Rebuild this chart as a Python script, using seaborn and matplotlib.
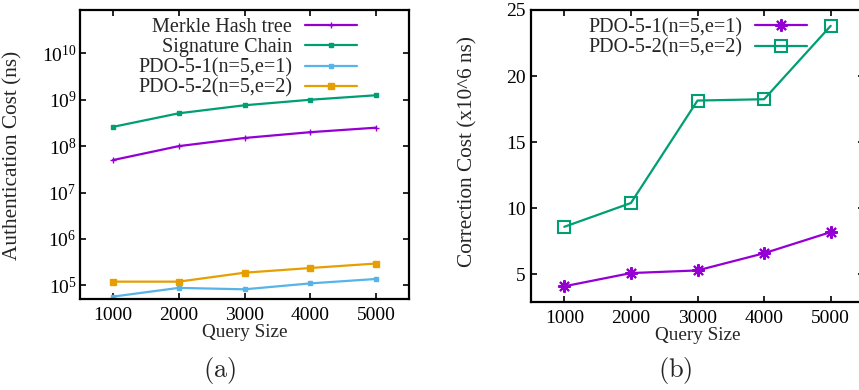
import numpy as np
import pandas as pd
import matplotlib
matplotlib.use("Agg")
import matplotlib.pyplot as plt
import seaborn as sns
from matplotlib.ticker import FixedLocator, NullLocator, FixedFormatter

# ---------------- data ----------------
query_sizes = [1000, 2000, 3000, 4000, 5000]

merkle = [5.0e7, 1.0e8, 1.5e8, 2.0e8, 2.5e8]
signature = [2.6e8, 5.1e8, 7.6e8, 1.0e9, 1.25e9]
pdo51_auth = [5.7e4, 8.8e4, 8.2e4, 1.1e5, 1.37e5]
pdo52_auth = [1.2e5, 1.2e5, 1.87e5, 2.36e5, 2.95e5]

pdo51_corr = [4.1, 5.1, 5.3, 6.6, 8.2]
pdo52_corr = [8.6, 10.4, 18.15, 18.25, 23.8]

labels_a = ["Merkle Hash tree", "Signature Chain", "PDO-5-1(n=5,e=1)", "PDO-5-2(n=5,e=2)"]
labels_b = ["PDO-5-1(n=5,e=1)", "PDO-5-2(n=5,e=2)"]
log_tick_labels = [r"$10^{5}$", r"$10^{6}$", r"$10^{7}$", r"$10^{8}$", r"$10^{9}$", r"$10^{10}$"]
log_tick_values = [1e5, 1e6, 1e7, 1e8, 1e9, 1e10]

# ---------------- style ----------------
sns.set_theme(style="ticks")
plt.rcParams["font.family"] = ["Liberation Serif", "DejaVu Serif"]
plt.rcParams["mathtext.fontset"] = "custom"
plt.rcParams["mathtext.rm"] = "Liberation Serif"
plt.rcParams["mathtext.it"] = "Liberation Serif:italic"

FS_TICK = 14
FS_LEG = 14.5
FS_XL = 13.8
FS_YL = 15.3
purple = "#9400D3"
green = "#009E73"
blue = "#56B4E9"
orange = "#E69F00"

fig = plt.figure(figsize=(8.59, 3.9), dpi=100)
W, H = 859, 390
axA = fig.add_axes([80 / W, 1 - 299 / H, (409 - 80) / W, (299 - 10) / H])
axB = fig.add_axes([531 / W, 1 - 301.5 / H, (864 - 531) / W, (301.5 - 10) / H])

def style_axes(ax):
    for s in ax.spines.values():
        s.set_linewidth(1.6)
        s.set_color("black")
    ax.tick_params(direction="in", length=4, width=1.2, top=True, right=True,
                   labelsize=FS_TICK, colors="black")
    ax.tick_params(axis="x", pad=6)
    ax.tick_params(axis="y", pad=2.5)
    ax.grid(False)

leg_kw = dict(loc="upper right", frameon=False, markerfirst=False, fontsize=FS_LEG,
              handlelength=2.58, handletextpad=0.65, labelspacing=0.05,
              borderpad=0, borderaxespad=0)

# ---------------- panel (a) ----------------
dfa = pd.DataFrame({
    "Query Size": query_sizes * 4,
    "value": merkle + signature + pdo51_auth + pdo52_auth,
    "series": sum([[l] * 5 for l in labels_a], []),
})
specs_a = [(purple, "+", 4), (green, "s", 3), (blue, "s", 3), (orange, "s", 5)]
for lab, (c, m, ms) in zip(labels_a, specs_a):
    sns.lineplot(data=dfa[dfa["series"] == lab], x="Query Size", y="value", ax=axA,
                 color=c, marker=m, markersize=ms, markeredgecolor=c, markeredgewidth=1.0,
                 linewidth=1.6, label=lab)
axA.set_yscale("log")
axA.set_xlim(500, 5500)
axA.set_ylim(5.07e4, 8.6e10)
axA.xaxis.set_major_locator(FixedLocator(query_sizes))
axA.yaxis.set_major_locator(FixedLocator(log_tick_values))
axA.yaxis.set_major_formatter(FixedFormatter(log_tick_labels))
axA.yaxis.set_minor_locator(NullLocator())
style_axes(axA)
axA.set_xlabel("Query Size", fontsize=FS_XL, labelpad=0)
axA.set_ylabel("Authentication Cost (ns)", fontsize=FS_YL)
axA.yaxis.set_label_coords((22.5 - 80) / 329, (299 - 155) / 289)
axA.legend(bbox_to_anchor=(0.842, 0.972), **leg_kw)

# ---------------- panel (b) ----------------
dfb = pd.DataFrame({
    "Query Size": query_sizes * 2,
    "value": pdo51_corr + pdo52_corr,
    "series": sum([[l] * 5 for l in labels_b], []),
})
sns.lineplot(data=dfb[dfb["series"] == labels_b[0]], x="Query Size", y="value", ax=axB,
             color=purple, marker=(4, 2, 0), markersize=9, markeredgecolor=purple,
             markeredgewidth=1.5, linewidth=1.6, label=labels_b[0])
axB.lines[-1].set_marker((8, 2, 0))
sns.lineplot(data=dfb[dfb["series"] == labels_b[1]], x="Query Size", y="value", ax=axB,
             color=green, marker="s", markersize=8, markerfacecolor="none",
             markeredgecolor=green, markeredgewidth=1.5, linewidth=1.6, label=labels_b[1])
axB.set_xlim(500, 5500)
axB.set_ylim(2.95, 25)
axB.xaxis.set_major_locator(FixedLocator(query_sizes))
axB.yaxis.set_major_locator(FixedLocator([5, 10, 15, 20, 25]))
style_axes(axB)
axB.tick_params(axis="y", pad=4)
axB.set_xlabel("Query Size", fontsize=FS_XL, labelpad=0)
axB.set_ylabel("Correction Cost (x10^6 ns)", fontsize=FS_YL)
axB.yaxis.set_label_coords((477.5 - 531) / 333, (301.5 - 152) / 291.5)
axB.legend(bbox_to_anchor=(0.829, 0.972), **leg_kw)

# ---------------- panel captions ----------------
fig.text(220 / W, 1 - 370 / H, r"$\mathrm{(a)}$", ha="center", va="center", fontsize=19,
         math_fontfamily="cm")
fig.text(675 / W, 1 - 370 / H, r"$\mathrm{(b)}$", ha="center", va="center", fontsize=19,
         math_fontfamily="cm")

fig.savefig("out.png", dpi=100)
